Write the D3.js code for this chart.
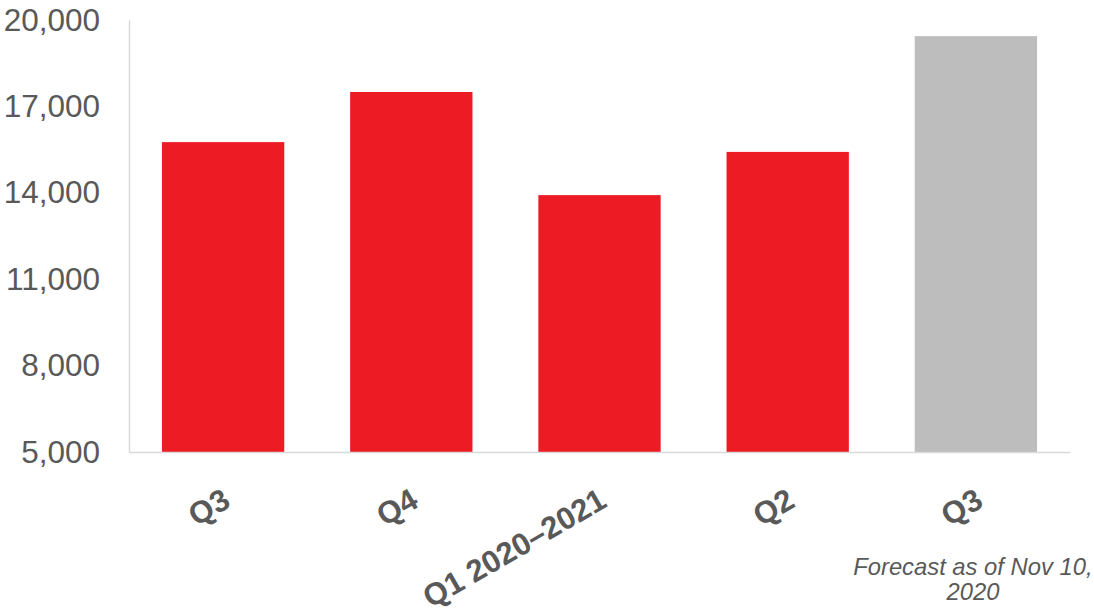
<!DOCTYPE html>
<html>
<head>
<meta charset="utf-8">
<script src="https://cdn.jsdelivr.net/npm/d3@7"></script>
<style>
  body { margin: 0; background: #fff; }
  svg { display: block; font-family: "Liberation Sans", Arial, sans-serif; }
</style>
</head>
<body>
<div id="chart"></div>
<script>
// data
var quarters = ["Q3", "Q4", "Q1 2020\u20132021", "Q2", "Q3"];
var values = [15760, 17500, 13920, 15420, 19440];
var isForecast = [false, false, false, false, true];
var yTicks = [5000, 8000, 11000, 14000, 17000, 20000];
var note = ["Forecast as of Nov 10,", "2020"];

var width = 1094, height = 615;
var margin = {top: 20, right: 24, bottom: 163, left: 129};

var svg = d3.select("#chart")
  .append("svg")
  .attr("width", width)
  .attr("height", height);

var ids = quarters.map(function(d, i) { return i; });

var x = d3.scaleBand()
  .domain(ids)
  .range([margin.left, width - margin.right])
  .paddingInner(0.35)
  .paddingOuter(0.175);

var y = d3.scaleLinear()
  .domain([5000, 20000])
  .range([height - margin.bottom, margin.top]);

// bars
svg.selectAll("rect.bar")
  .data(values)
  .enter()
  .append("rect")
  .attr("class", "bar")
  .attr("x", function(d, i) { return x(i); })
  .attr("y", function(d) { return y(d); })
  .attr("width", x.bandwidth())
  .attr("height", function(d) { return y(5000) - y(d); })
  .attr("fill", function(d, i) { return isForecast[i] ? "#bdbdbd" : "#ed1c24"; });

// y axis
var yAxis = svg.append("g")
  .attr("transform", "translate(" + margin.left + ",0)")
  .call(d3.axisLeft(y).tickValues(yTicks).tickSize(0).tickPadding(29).tickFormat(d3.format(",")));
yAxis.select(".domain").attr("stroke", "#d9d9d9").attr("stroke-width", 1.5);
yAxis.selectAll("text")
  .attr("fill", "#595959")
  .style("font-size", "31.5px");

// x axis line
var xAxis = svg.append("g")
  .attr("transform", "translate(0," + y(5000) + ")")
  .call(d3.axisBottom(x).tickSize(0).tickFormat(""));
xAxis.select(".domain").attr("stroke", "#d9d9d9").attr("stroke-width", 1.5);

// rotated category labels
svg.selectAll("text.cat")
  .data(quarters)
  .enter()
  .append("text")
  .attr("class", "cat")
  .attr("transform", function(d, i) {
    return "translate(" + (x(i) + x.bandwidth() / 2 + 9) + "," + (y(5000) + 54) + ") rotate(-30)";
  })
  .attr("text-anchor", "end")
  .attr("fill", "#595959")
  .style("font-size", "31px")
  .style("font-weight", "bold")
  .text(function(d) { return d; });

// forecast note
var last = ids[ids.length - 1];
svg.append("text")
  .attr("x", x(last) + x.bandwidth() / 2 - 3)
  .attr("y", 575)
  .attr("text-anchor", "middle")
  .attr("fill", "#595959")
  .style("font-size", "23.8px")
  .style("font-style", "italic")
  .selectAll("tspan")
  .data(note)
  .enter()
  .append("tspan")
  .attr("x", x(last) + x.bandwidth() / 2 - 3)
  .attr("dy", function(d, i) { return i === 0 ? 0 : 25; })
  .text(function(d) { return d; });
</script>
</body>
</html>
